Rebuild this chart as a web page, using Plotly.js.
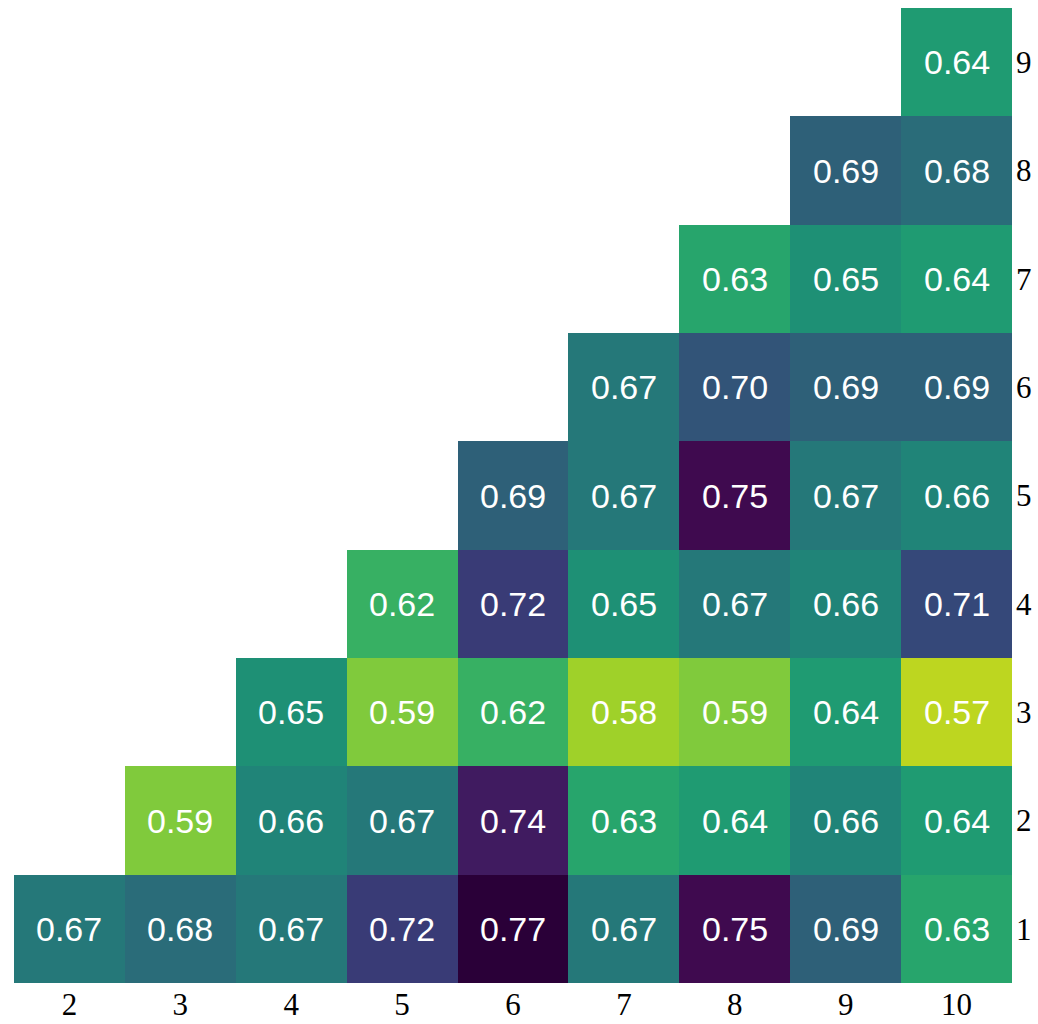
<!DOCTYPE html>
<html>
<head>
<meta charset="utf-8">
<script src="https://cdn.plot.ly/plotly-3.0.1.min.js"></script>
<style>html,body{margin:0;padding:0;background:#fff;}#chart{width:1038px;height:1024px;}</style>
</head>
<body>
<div id="chart"></div>
<script>
const xCats = [2, 3, 4, 5, 6, 7, 8, 9, 10];
const yCats = [1, 2, 3, 4, 5, 6, 7, 8, 9];
// Each row: values for x = 2..10 (null = empty)
const row1 = [0.67, 0.68, 0.67, 0.72, 0.77, 0.67, 0.75, 0.69, 0.63];
const row2 = [null, 0.59, 0.66, 0.67, 0.74, 0.63, 0.64, 0.66, 0.64];
const row3 = [null, null, 0.65, 0.59, 0.62, 0.58, 0.59, 0.64, 0.57];
const row4 = [null, null, null, 0.62, 0.72, 0.65, 0.67, 0.66, 0.71];
const row5 = [null, null, null, null, 0.69, 0.67, 0.75, 0.67, 0.66];
const row6 = [null, null, null, null, null, 0.67, 0.70, 0.69, 0.69];
const row7 = [null, null, null, null, null, null, 0.63, 0.65, 0.64];
const row8 = [null, null, null, null, null, null, null, 0.69, 0.68];
const row9 = [null, null, null, null, null, null, null, null, 0.64];
const zRows = [row1, row2, row3, row4, row5, row6, row7, row8, row9];

const annotations = [];
zRows.forEach((row, i) => {
  row.forEach((v, j) => {
    if (v !== null) {
      annotations.push({
        x: xCats[j], y: yCats[i], xref: 'x', yref: 'y',
        text: v.toFixed(2), showarrow: false,
        font: {family: '"Liberation Sans", Arial, sans-serif', size: 34, color: '#ffffff'}
      });
    }
  });
});

// reversed viridis (slightly muted), dark end beyond for the top value
const vir = ['rgb(233,219,31)','rgb(174,212,32)','rgb(112,199,69)','rgb(63,181,95)','rgb(31,160,112)',
             'rgb(30,138,119)','rgb(39,114,121)','rgb(49,90,120)','rgb(55,66,122)','rgb(64,36,104)','rgb(63,1,71)'];
const zmin = 0.55, zmax = 0.77, lightV = 0.555, darkV = 0.755;
const colorscale = [[0, vir[0]]];
vir.forEach((c, k) => {
  const v = lightV + (darkV - lightV) * k / 10;
  colorscale.push([(v - zmin) / (zmax - zmin), c]);
});
colorscale.push([1, 'rgb(42,0,56)']);

const trace = {
  type: 'heatmap',
  x: xCats, y: yCats, z: zRows,
  colorscale: colorscale,
  zmin: zmin, zmax: zmax,
  showscale: false, hoverongaps: false
};

const tickFont = {family: '"Liberation Serif", "Times New Roman", serif', size: 31, color: '#000'};
const layout = {
  width: 1038, height: 1024,
  margin: {l: 14, r: 26, t: 8, b: 41},
  paper_bgcolor: '#ffffff', plot_bgcolor: '#ffffff',
  showlegend: false,
  xaxis: {
    range: [1.5, 10.5], tickvals: xCats, ticktext: xCats.map(String),
    showgrid: false, zeroline: false, showline: false, ticks: '',
    tickfont: tickFont, ticklabelstandoff: 0
  },
  yaxis: {
    range: [0.5, 9.5], tickvals: yCats, ticktext: yCats.map(String), side: 'right',
    showgrid: false, zeroline: false, showline: false, ticks: '',
    tickfont: tickFont, ticklabelstandoff: 3
  },
  annotations: annotations
};

Plotly.newPlot('chart', [trace], layout, {displayModeBar: false, staticPlot: true});
</script>
</body>
</html>
